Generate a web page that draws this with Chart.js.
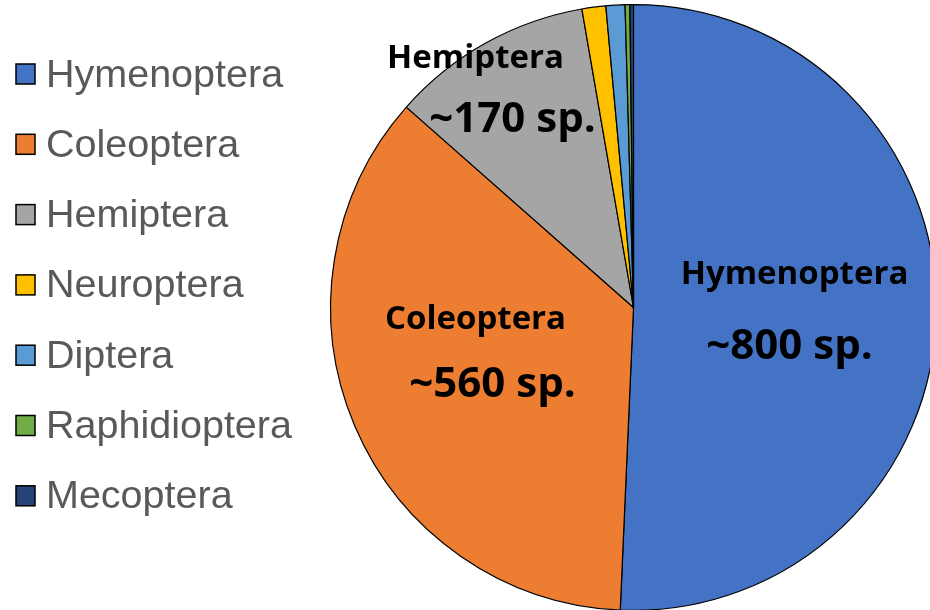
<!DOCTYPE html>
<html>
<head>
<meta charset="utf-8">
<script src="https://cdn.jsdelivr.net/npm/chart.js@4.4.1/dist/chart.umd.min.js"></script>
<style>
  html, body { margin: 0; padding: 0; background: #fff; overflow: hidden; }
  #wrap { position: absolute; left: 0; top: 0; width: 940px; height: 616px; }
</style>
</head>
<body>
<div id="wrap"><canvas id="chart" width="940" height="616"></canvas></div>
<script>
// Insect orders and approximate species counts (read from the pie angles)
const orders = ['Hymenoptera', 'Coleoptera', 'Hemiptera', 'Neuroptera', 'Diptera', 'Raphidioptera', 'Mecoptera'];
const species = [800, 565, 170, 20, 16, 4, 3];
const countLabels = ['~800 sp.', '~560 sp.', '~170 sp.', '', '', '', ''];
const colors = ['#4472C4', '#ED7D31', '#A5A5A5', '#FFC000', '#5B9BD5', '#70AD47', '#264478'];

// label placement relative to the pie centre (name baseline, count baseline)
const labelSpots = [
  { name: [161, -24], count: [156, 51] },
  { name: [-158, 21], count: [-141, 89] },
  { name: [-158, -240], count: [-121, -176] }
];

const sliceLabels = {
  id: 'sliceLabels',
  afterDatasetsDraw(chart) {
    const ctx = chart.ctx;
    const arc = chart.getDatasetMeta(0).data[0];
    const cx = arc.x, cy = arc.y;
    ctx.save();
    ctx.fillStyle = '#000';
    ctx.textAlign = 'center';
    ctx.textBaseline = 'alphabetic';
    labelSpots.forEach((s, i) => {
      ctx.font = 'bold 33px "Open Sans"';
      ctx.fillText(chart.data.labels[i], cx + s.name[0], cy + s.name[1]);
      ctx.font = 'bold 42px "Open Sans"';
      ctx.fillText(countLabels[i], cx + s.count[0], cy + s.count[1]);
    });
    ctx.restore();
  }
};

// legend on the left, drawn from the labels and colours
const sideLegend = {
  id: 'sideLegend',
  afterDraw(chart) {
    const ctx = chart.ctx;
    const bg = chart.data.datasets[0].backgroundColor;
    ctx.save();
    ctx.font = '39.5px "Liberation Sans"';
    ctx.textBaseline = 'alphabetic';
    ctx.textAlign = 'left';
    chart.data.labels.forEach((lab, i) => {
      const yc = 74 + i * 70.3;
      ctx.fillStyle = bg[i];
      ctx.fillRect(16, yc - 10, 19, 20);
      ctx.strokeStyle = '#000';
      ctx.lineWidth = 1.5;
      ctx.strokeRect(16, yc - 10, 19, 20);
      ctx.fillStyle = '#595959';
      ctx.fillText(lab, 46, yc + 12.5);
    });
    ctx.restore();
  }
};

new Chart(document.getElementById('chart'), {
  type: 'pie',
  data: {
    labels: orders,
    datasets: [{
      data: species,
      backgroundColor: colors,
      borderColor: '#000',
      borderWidth: 1.2
    }]
  },
  options: {
    responsive: false,
    animation: false,
    layout: { padding: { left: 330, top: 4, right: 3, bottom: 5 } },
    plugins: {
      legend: { display: false },
      tooltip: { enabled: false }
    }
  },
  plugins: [sliceLabels, sideLegend]
});
</script>
</body>
</html>
